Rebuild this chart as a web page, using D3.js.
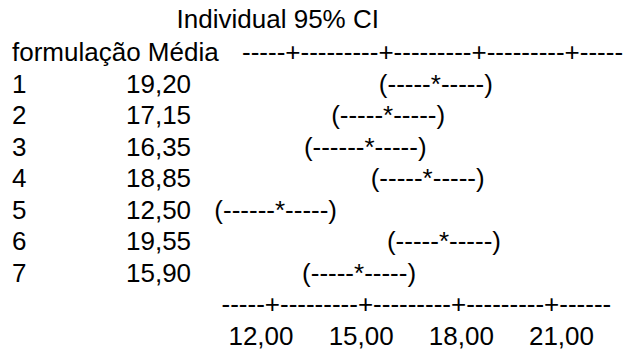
<!DOCTYPE html>
<html>
<head>
<meta charset="utf-8">
<script src="https://cdn.jsdelivr.net/npm/d3@7"></script>
<style>
  html, body { margin: 0; padding: 0; background: #fff; }
  svg { display: block; }
  text { font-family: "Liberation Sans", Arial, Helvetica, sans-serif; font-size: 26px; fill: #000; white-space: pre; }
</style>
</head>
<body>
<div id="chart"></div>
<script>
// ---- data ----
const title = "Individual 95% CI";
const headerLevel = "formulação";
const headerMean = "Média";
const levels = ["1", "2", "3", "4", "5", "6", "7"];
const means = [19.20, 17.15, 16.35, 18.85, 12.50, 19.55, 15.90];
const lowers = [17.40, 15.35, 14.25, 17.05, 10.40, 17.75, 14.10];
const uppers = [21.00, 18.95, 18.15, 20.65, 14.30, 21.35, 17.70];
const tickValues = [12, 15, 18, 21];

// ---- layout ----
const W = 628, H = 355;
const fmt = d3.formatLocale({decimal: ",", thousands: ".", grouping: [3], currency: ["", ""]}).format(".2f");
const colStep = (tickValues[1] - tickValues[0]) / 10;   // one text column in data units

const svg = d3.select("#chart").append("svg").attr("width", W).attr("height", H);

// scales
const x = d3.scaleLinear().domain([12, 21]).range([268.4, 477.7]);      // position of the '*'
const xLabel = d3.scaleLinear().domain([12, 21]).range([261, 561.5]);   // tick label centres
const yRow = d3.scaleLinear().domain([0, levels.length - 1]).range([92.5, 281.5]);
const rowGap = yRow(1) - yRow(0);

// title and header
svg.append("text").attr("x", 176.6).attr("y", 27.5).text(title);
svg.append("text").attr("x", 12).attr("y", 61).text(headerLevel + " " + headerMean);

// axis strings built from the ticks
const axisCore = "-".repeat(5) + tickValues.map(() => "+").join("-".repeat(9));
svg.append("text").attr("x", 242).attr("y", 61).text(axisCore + "-".repeat(5));
svg.append("text").attr("x", 221.5).attr("y", yRow(levels.length - 1) + rowGap).text(axisCore + "-".repeat(6));

// tick labels
svg.append("g").selectAll("text").data(tickValues).join("text")
  .attr("x", d => xLabel(d))
  .attr("y", yRow(levels.length - 1) + 2 * rowGap)
  .attr("text-anchor", "middle")
  .text(d => fmt(d));

// rows
const rows = svg.append("g").selectAll("g").data(levels.map((l, i) => ({
  level: l, mean: means[i], lo: lowers[i], hi: uppers[i], i
}))).join("g");

rows.append("text").attr("x", 12).attr("y", d => yRow(d.i)).text(d => d.level);
rows.append("text").attr("x", 126).attr("y", d => yRow(d.i)).text(d => fmt(d.mean));

rows.append("text")
  .attr("y", d => yRow(d.i))
  .each(function(d) {
    const nl = Math.round((d.mean - d.lo) / colStep) - 1;
    const nr = Math.round((d.hi - d.mean) / colStep) - 1;
    const s = "(" + "-".repeat(nl) + "*" + "-".repeat(nr) + ")";
    const t = d3.select(this).attr("x", 0).text(s);
    const node = t.node();
    const leftW = node.getSubStringLength(0, nl + 1);
    const starW = node.getSubStringLength(nl + 1, 1);
    t.attr("x", x(d.mean) - leftW - starW / 2);
  });
</script>
</body>
</html>
